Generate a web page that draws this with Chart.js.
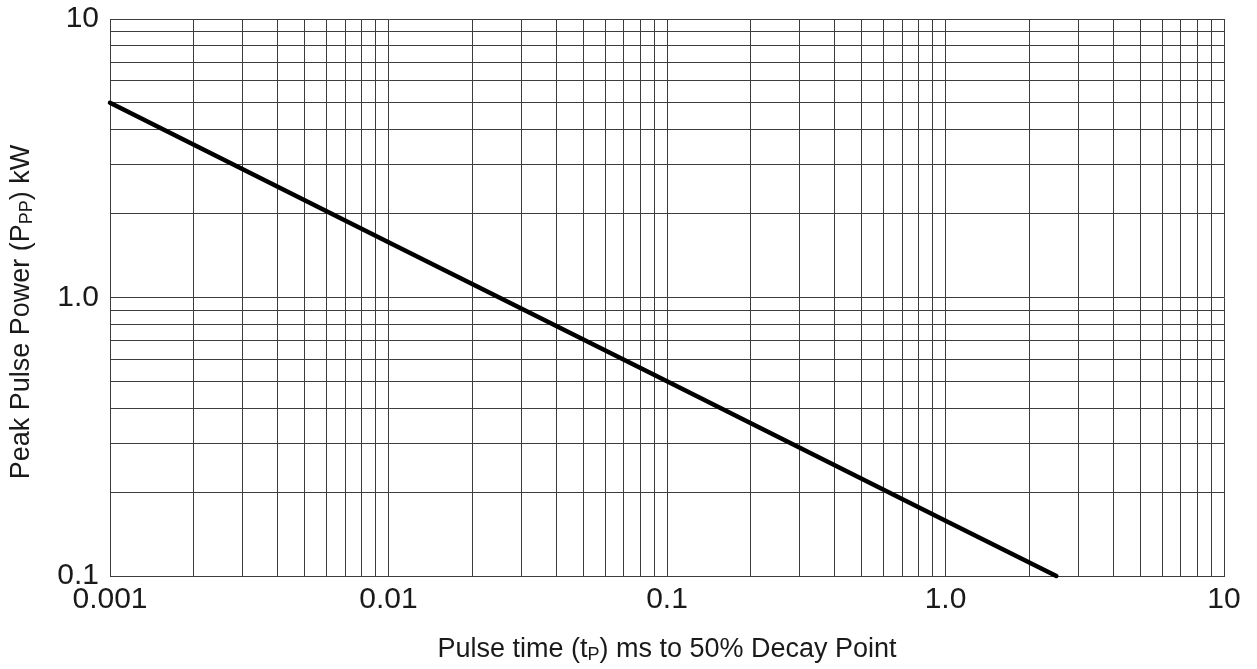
<!DOCTYPE html>
<html>
<head>
<meta charset="utf-8">
<script src="https://cdn.jsdelivr.net/npm/chart.js@4.4.1/dist/chart.umd.min.js"></script>
<style>
  html, body { margin: 0; padding: 0; background: #fff; }
  #wrap { width: 1257px; height: 669px; }
</style>
</head>
<body>
<div id="wrap"><canvas id="pulseChart" width="1257" height="669"></canvas></div>
<script>
// pulse time (ms) vs peak pulse power (kW)
const pulseTime = [0.001, 0.01, 0.1, 1, 2.5];
const peakPower = [5, 1.58, 0.5, 0.158, 0.1];

// grid lines (1..9 per decade)
const xGrid = [
  0.001, 0.002, 0.003, 0.004, 0.005, 0.006, 0.007, 0.008, 0.009,
  0.01, 0.02, 0.03, 0.04, 0.05, 0.06, 0.07, 0.08, 0.09,
  0.1, 0.2, 0.3, 0.4, 0.5, 0.6, 0.7, 0.8, 0.9,
  1, 2, 3, 4, 5, 6, 7, 8, 9,
  10
];
const yGrid = [
  0.1, 0.2, 0.3, 0.4, 0.5, 0.6, 0.7, 0.8, 0.9,
  1, 2, 3, 4, 5, 6, 7, 8, 9,
  10
];

// labelled ticks
const xLabelValues = [0.001, 0.01, 0.1, 1, 10];
const xLabelText = ['0.001', '0.01', '0.1', '1.0', '10'];
const yLabelValues = [0.1, 1, 10];
const yLabelText = ['0.1', '1.0', '10'];

const FONT = '"Liberation Sans", Arial, sans-serif';
const gridColor = '#3c3c3c';

function labelFor(values, texts, v) {
  for (let i = 0; i < values.length; i++) {
    if (Math.abs(v - values[i]) / values[i] < 1e-6) return texts[i];
  }
  return '';
}

// draws a line of text with subscript parts
function drawRich(ctx, parts, size, cx, cy, rotate) {
  ctx.save();
  ctx.translate(cx, cy);
  if (rotate) ctx.rotate(-Math.PI / 2);
  ctx.fillStyle = '#1a1a1a';
  ctx.textBaseline = 'middle';
  ctx.textAlign = 'left';
  let total = 0;
  const widths = parts.map(p => {
    ctx.font = (p.sub ? Math.round(size * 0.66) : size) + 'px ' + FONT;
    const w = ctx.measureText(p.t).width;
    total += w;
    return w;
  });
  let x = -total / 2;
  parts.forEach((p, i) => {
    ctx.font = (p.sub ? Math.round(size * 0.66) : size) + 'px ' + FONT;
    ctx.fillText(p.t, x, p.sub ? size * 0.2 : 0);
    x += widths[i];
  });
  ctx.restore();
}

const axisTitles = {
  id: 'axisTitles',
  afterDraw(chart) {
    const ctx = chart.ctx;
    drawRich(ctx, [
      { t: 'Pulse time (t' }, { t: 'P', sub: true }, { t: ') ms to 50% Decay Point' }
    ], 27, 667, 650, false);
    drawRich(ctx, [
      { t: 'Peak Pulse Power (P' }, { t: 'PP', sub: true }, { t: ') kW' }
    ], 27, 22, 312, true);
  }
};

const ctx = document.getElementById('pulseChart').getContext('2d');

new Chart(ctx, {
  type: 'line',
  data: {
    datasets: [{
      label: 'Peak Pulse Power',
      data: pulseTime.map((t, i) => ({ x: t, y: peakPower[i] })),
      borderColor: '#000',
      borderWidth: 4.5,
      borderCapStyle: 'round',
      pointRadius: 0,
      fill: false,
      tension: 0,
      clip: false
    }]
  },
  options: {
    responsive: false,
    animation: false,
    layout: { padding: { top: 19, right: 33, left: 0, bottom: 0 } },
    plugins: {
      legend: { display: false },
      tooltip: { enabled: false }
    },
    scales: {
      x: {
        type: 'logarithmic',
        min: 0.001,
        max: 10,
        afterBuildTicks: s => { s.ticks = xGrid.map(v => ({ value: v })); },
        afterFit: s => { s.height = 93; s.paddingLeft = 0; s.paddingRight = 0; },
        grid: { color: gridColor, lineWidth: 1, drawTicks: false },
        border: { color: gridColor, width: 1 },
        ticks: {
          autoSkip: false,
          maxRotation: 0,
          padding: 6,
          color: '#1a1a1a',
          font: { family: FONT, size: 30 },
          callback: v => labelFor(xLabelValues, xLabelText, v)
        }
      },
      y: {
        type: 'logarithmic',
        min: 0.1,
        max: 10,
        afterBuildTicks: s => { s.ticks = yGrid.map(v => ({ value: v })); },
        afterFit: s => { s.width = 110; s.paddingTop = 0; s.paddingBottom = 0; },
        grid: { color: gridColor, lineWidth: 1, drawTicks: false },
        border: { color: gridColor, width: 1 },
        ticks: {
          autoSkip: false,
          padding: 11,
          color: '#1a1a1a',
          font: { family: FONT, size: 30 },
          callback: v => labelFor(yLabelValues, yLabelText, v)
        }
      }
    }
  },
  plugins: [axisTitles]
});
</script>
</body>
</html>
